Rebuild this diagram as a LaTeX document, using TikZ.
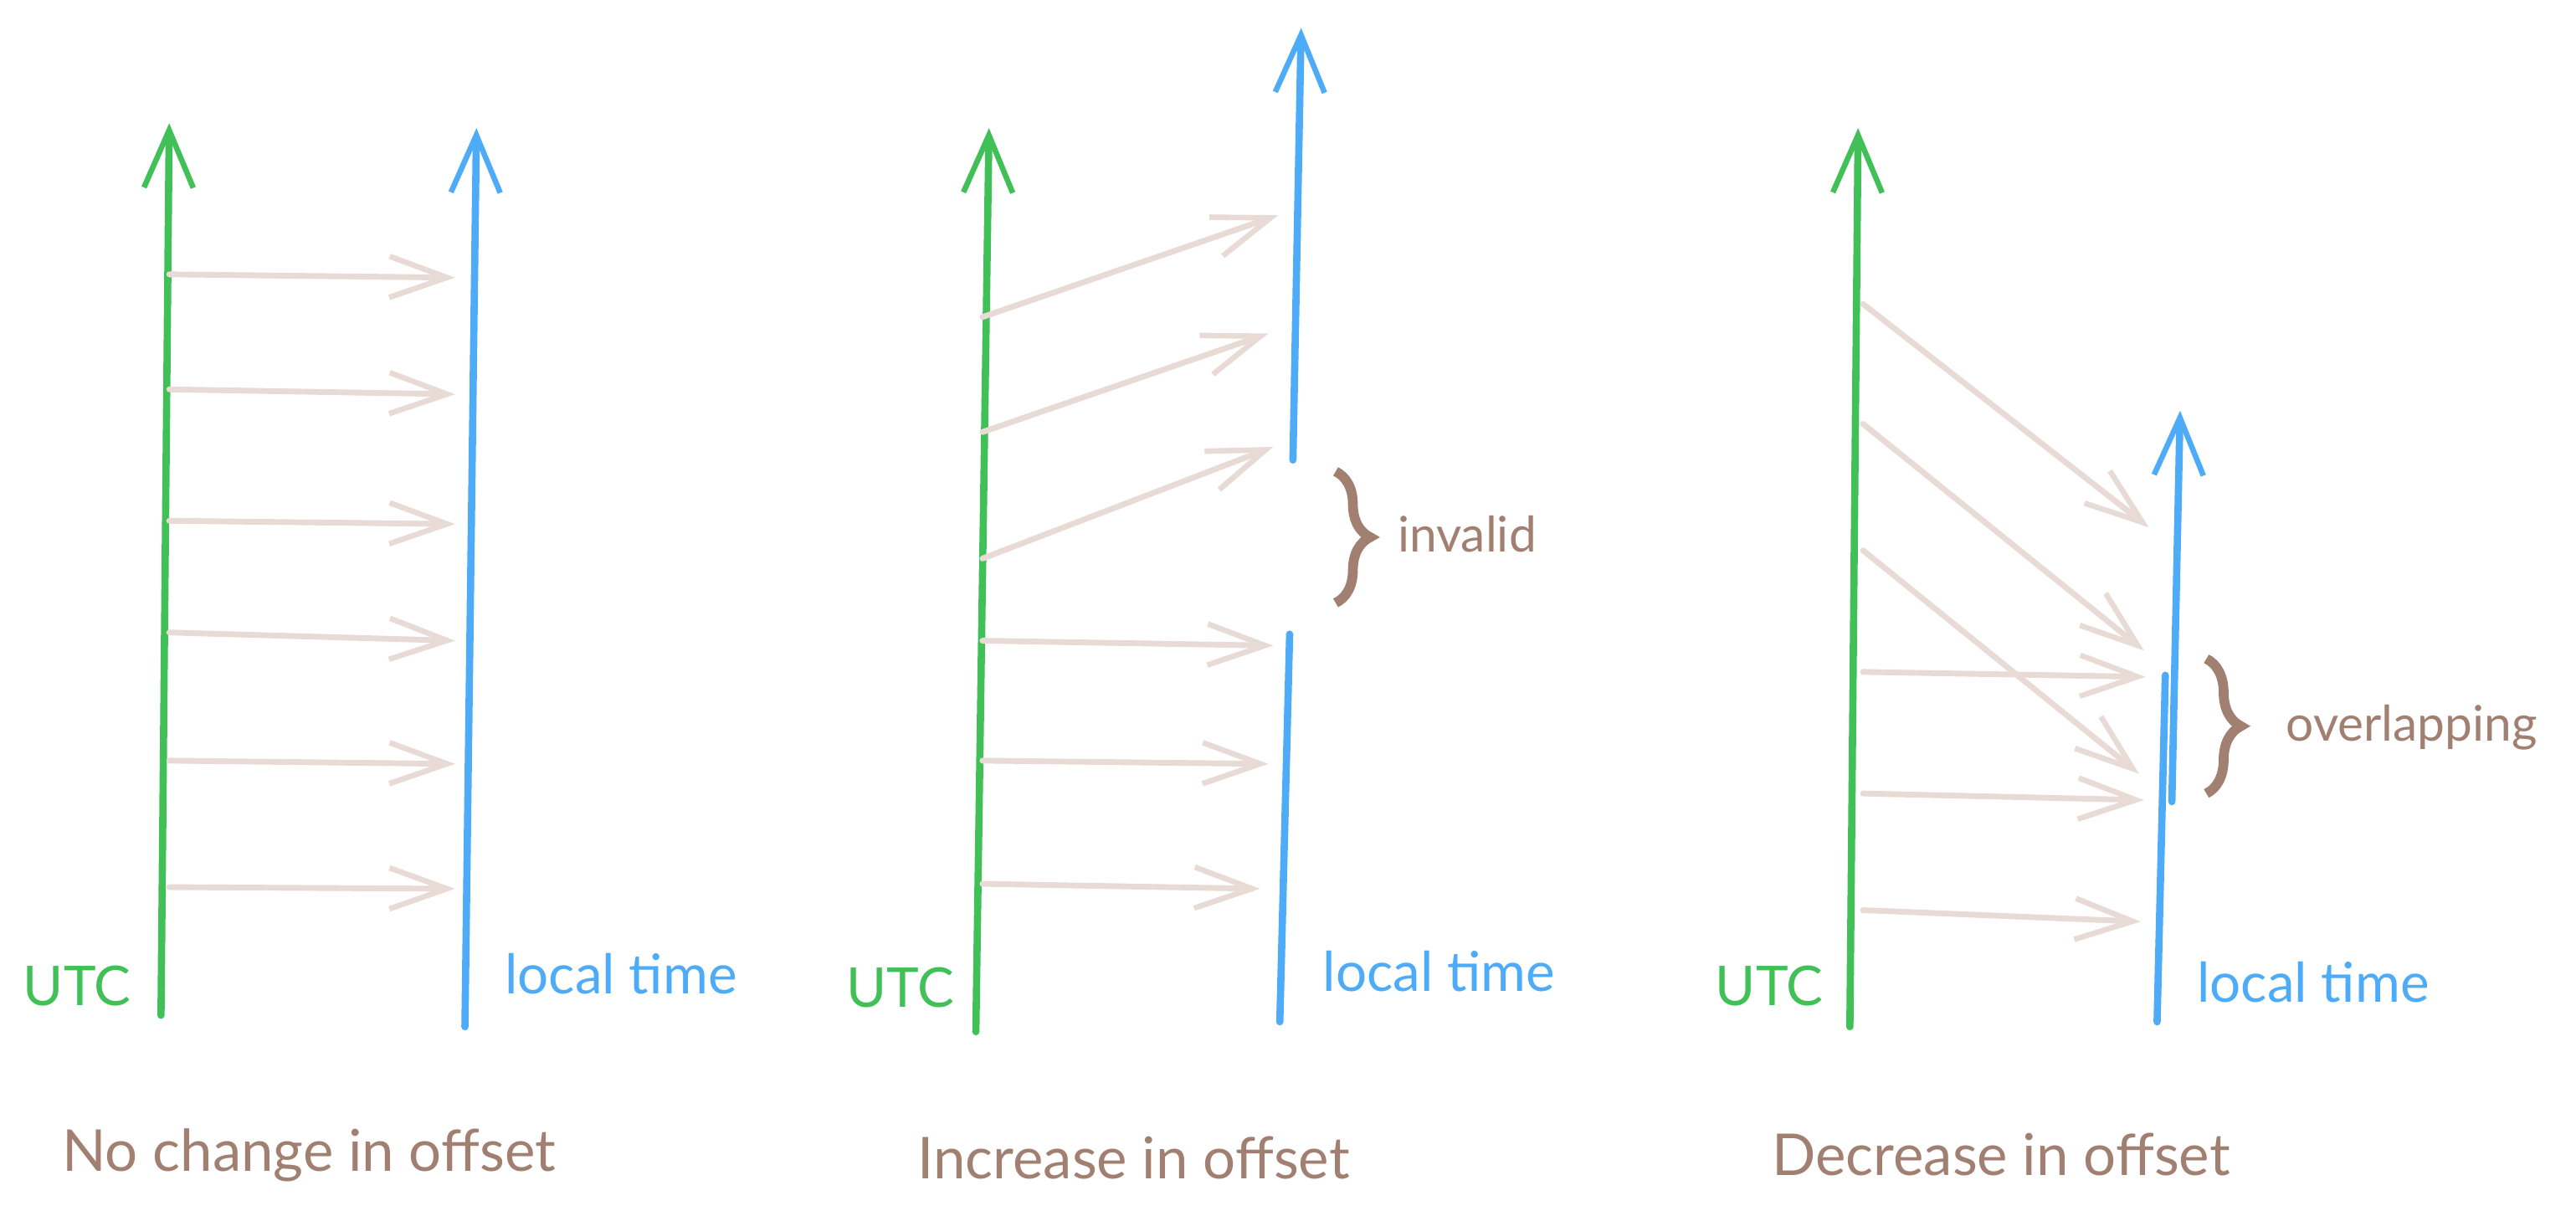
\documentclass[tikz,border=0pt]{standalone}
\usepackage{fontspec}
\setmainfont{Lato}
\usetikzlibrary{arrows.meta,decorations.pathreplacing}
\definecolor{utcgreen}{HTML}{40C057}
\definecolor{locblue}{HTML}{4DABF7}
\definecolor{brn}{HTML}{A18072}
\definecolor{pale}{HTML}{E8DAD4}
\begin{document}
\begin{tikzpicture}[x=0.02cm,y=-0.02cm,
  axisline/.style={line width=2.5pt, line cap=round},
  axisarrow/.style={axisline, -{Straight Barb[length=0.7cm,width=0.6cm,line width=1.9pt]}},
  maparrow/.style={pale, line width=2pt, line cap=round, -{Straight Barb[length=0.7cm,width=0.5cm,line width=1.9pt]}},
  axislabel/.style={font=\fontsize{19}{22}\selectfont},
  title/.style={brn, font=\fontsize{20}{24}\selectfont},
  note/.style={brn, font=\fontsize{17}{20}\selectfont},
  bracedeco/.style={brn, line width=3.4pt, decorate, decoration={brace, amplitude=0.42cm}}
]
\useasboundingbox (0,0) rectangle (1568,740);

% ---------- panel 1 ----------
\coordinate (u1b) at (98,618);  \coordinate (u1t) at (103,75);
\coordinate (l1b) at (283,625); \coordinate (l1t) at (290,78);
\draw[axisarrow, utcgreen] (u1b) -- (u1t);
\draw[axisarrow, locblue] (l1b) -- (l1t);
\foreach \i/\y/\e in {1/167/169, 2/237/240, 3/317/319, 4/385/390, 5/463/465, 6/540/541}{
  \coordinate (p1s\i) at (103,\y); \coordinate (p1e\i) at (277,\e);
  \draw[maparrow] (p1s\i) -- (p1e\i);
}
\node[axislabel, utcgreen] (utc1) at (47,600) {UTC};
\node[axislabel, locblue] (loc1) at (378,593) {local time};
\node[title] (t1) at (188,703) {No change in offset};

% ---------- panel 2 ----------
\coordinate (u2b) at (594,628); \coordinate (u2t) at (602,78);
\coordinate (l2tb) at (787,280); \coordinate (l2tt) at (792,17);
\coordinate (l2bb) at (779,622); \coordinate (l2bt) at (785,386);
\draw[axisarrow, utcgreen] (u2b) -- (u2t);
\draw[axisarrow, locblue] (l2tb) -- (l2tt);
\draw[axisline, locblue] (l2bb) -- (l2bt);
\foreach \i/\ys/\xe/\ye in {1/193/778/131, 2/263/772/203, 3/340/775/272, 4/390/775/393, 5/463/772/465, 6/538/767/541}{
  \coordinate (p2s\i) at (598,\ys); \coordinate (p2e\i) at (\xe,\ye);
  \draw[maparrow] (p2s\i) -- (p2e\i);
}
\coordinate (b2t) at (813,287); \coordinate (b2b) at (813,367);
\draw[bracedeco] (b2t) -- (b2b);
\node[note] (inv) at (893,325) {invalid};
\node[axislabel, utcgreen] (utc2) at (548,601) {UTC};
\node[axislabel, locblue] (loc2) at (876,591) {local time};
\node[title] (t2) at (690,705) {Increase in offset};

% ---------- panel 3 ----------
\coordinate (u3b) at (1126,625); \coordinate (u3t) at (1131,78);
\coordinate (l3tb) at (1322,488); \coordinate (l3tt) at (1327,250);
\coordinate (l3bb) at (1313,622); \coordinate (l3bt) at (1318,411);
\draw[axisarrow, utcgreen] (u3b) -- (u3t);
\draw[axisarrow, locblue] (l3tb) -- (l3tt);
\draw[axisline, locblue] (l3bb) -- (l3bt);
\foreach \i/\ys/\xe/\ye in {1/185/1308/321, 2/258/1305/396, 3/335/1302/471, 4/409/1306/412, 5/483/1305/487, 6/554/1303/561}{
  \coordinate (p3s\i) at (1134,\ys); \coordinate (p3e\i) at (\xe,\ye);
  \draw[maparrow] (p3s\i) -- (p3e\i);
}
\coordinate (b3t) at (1343,401); \coordinate (b3b) at (1343,483);
\draw[bracedeco] (b3t) -- (b3b);
\node[note] (ovl) at (1468,443) {overlapping};
\node[axislabel, utcgreen] (utc3) at (1077,600) {UTC};
\node[axislabel, locblue] (loc3) at (1408,598) {local time};
\node[title] (t3) at (1218,703) {Decrease in offset};
\end{tikzpicture}
\end{document}
